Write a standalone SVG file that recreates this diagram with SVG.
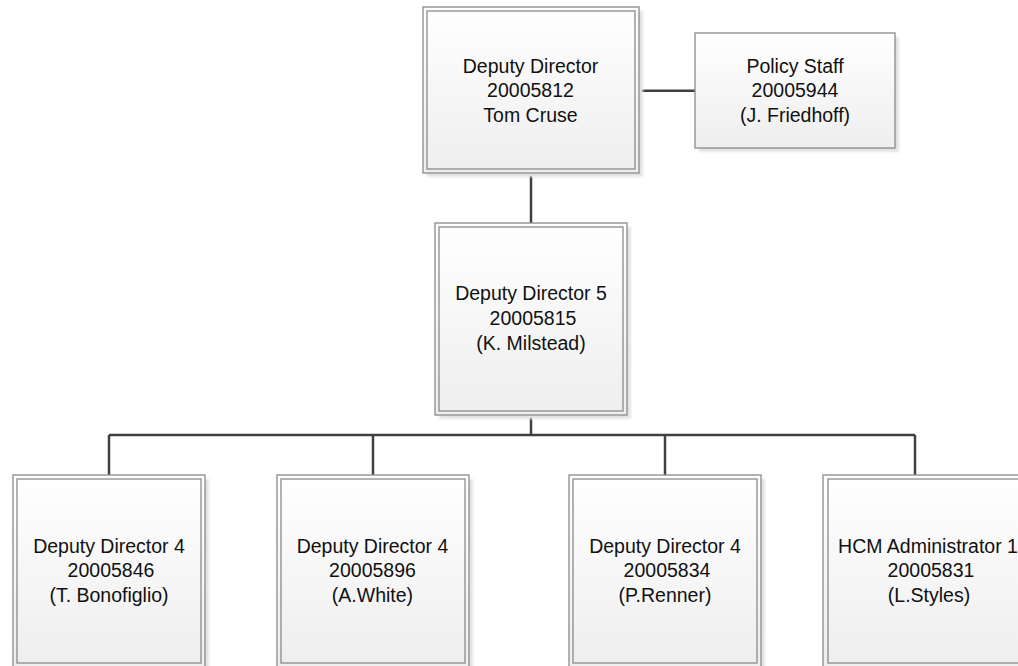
<svg xmlns="http://www.w3.org/2000/svg" width="1018" height="666" viewBox="0 0 1018 666">
<defs>
<linearGradient id="fillg" x1="0" y1="0" x2="0" y2="1">
<stop offset="0" stop-color="#ffffff"/>
<stop offset="1" stop-color="#eeeeee"/>
</linearGradient>
<filter id="sh" x="-10%" y="-10%" width="130%" height="130%">
<feGaussianBlur stdDeviation="1.2"/>
</filter>
</defs>
<style>
.shadow{fill:#e3e3e3;filter:url(#sh);}
.outer{fill:url(#fillg);stroke:#8a8a8a;stroke-width:1.3;}
.inner{fill:none;stroke:#8a8a8a;stroke-width:1.3;}
.single{fill:url(#fillg);stroke:#8a8a8a;stroke-width:1.3;}
.conn{fill:none;stroke:#404040;stroke-width:2.5;}
text{font-family:"Liberation Sans",Arial,sans-serif;font-size:19.5px;fill:#111;text-anchor:middle;}
</style>
<rect width="1018" height="666" fill="#ffffff"/>

<g id="connectors">
<line class="conn" x1="531" y1="173" x2="531" y2="223"/>
<line class="conn" x1="639" y1="90.7" x2="695" y2="90.7"/>
<line class="conn" x1="531" y1="415" x2="531" y2="435"/>
<line class="conn" x1="109" y1="435" x2="915" y2="435"/>
<line class="conn" x1="109" y1="435" x2="109" y2="475"/>
<line class="conn" x1="373" y1="435" x2="373" y2="475"/>
<line class="conn" x1="665" y1="435" x2="665" y2="475"/>
<line class="conn" x1="915" y1="435" x2="915" y2="475"/>
</g>

<g id="node-deputy-director">
<rect class="shadow" x="427" y="11" width="216" height="166"/>
<rect class="outer" x="423" y="7" width="216" height="166"/>
<rect class="inner" x="427" y="11" width="208" height="158"/>
<text x="530.5" y="72.7">Deputy Director</text>
<text x="530.5" y="97.3">20005812</text>
<text x="530.5" y="122">Tom Cruse</text>
</g>

<g id="node-policy-staff">
<rect class="shadow" x="699" y="37" width="200" height="115"/>
<rect class="single" x="695" y="33" width="200" height="115"/>
<text x="795" y="72.7">Policy Staff</text>
<text x="795" y="97.3">20005944</text>
<text x="795" y="121.7">(J. Friedhoff)</text>
</g>

<g id="node-deputy-director-5">
<rect class="shadow" x="439" y="227" width="192" height="192"/>
<rect class="outer" x="435" y="223" width="192" height="192"/>
<rect class="inner" x="439" y="227" width="184" height="184"/>
<text x="531" y="300">Deputy Director 5</text>
<text x="533" y="325.3">20005815</text>
<text x="531" y="350">(K. Milstead)</text>
</g>

<g id="node-bonofiglio">
<rect class="shadow" x="17" y="479" width="192" height="192"/>
<rect class="outer" x="13" y="475" width="192" height="192"/>
<rect class="inner" x="17" y="479" width="184" height="184"/>
<text x="109" y="552.7">Deputy Director 4</text>
<text x="111" y="577.3">20005846</text>
<text x="109" y="602.3">(T. Bonofiglio)</text>
</g>

<g id="node-white">
<rect class="shadow" x="281" y="479" width="192" height="192"/>
<rect class="outer" x="277" y="475" width="192" height="192"/>
<rect class="inner" x="281" y="479" width="184" height="184"/>
<text x="372.5" y="552.7">Deputy Director 4</text>
<text x="372.5" y="577.3">20005896</text>
<text x="372.5" y="602.3">(A.White)</text>
</g>

<g id="node-renner">
<rect class="shadow" x="573" y="479" width="192" height="192"/>
<rect class="outer" x="569" y="475" width="192" height="192"/>
<rect class="inner" x="573" y="479" width="184" height="184"/>
<text x="665" y="552.7">Deputy Director 4</text>
<text x="667" y="577.3">20005834</text>
<text x="665" y="602.3">(P.Renner)</text>
</g>

<g id="node-styles">
<rect class="shadow" x="827" y="479" width="220" height="192"/>
<rect class="outer" x="823" y="475" width="220" height="192"/>
<rect class="inner" x="828" y="479" width="210" height="184"/>
<text x="928" y="552.7">HCM Administrator 1</text>
<text x="931" y="577.3">20005831</text>
<text x="929" y="602.3">(L.Styles)</text>
</g>
</svg>
